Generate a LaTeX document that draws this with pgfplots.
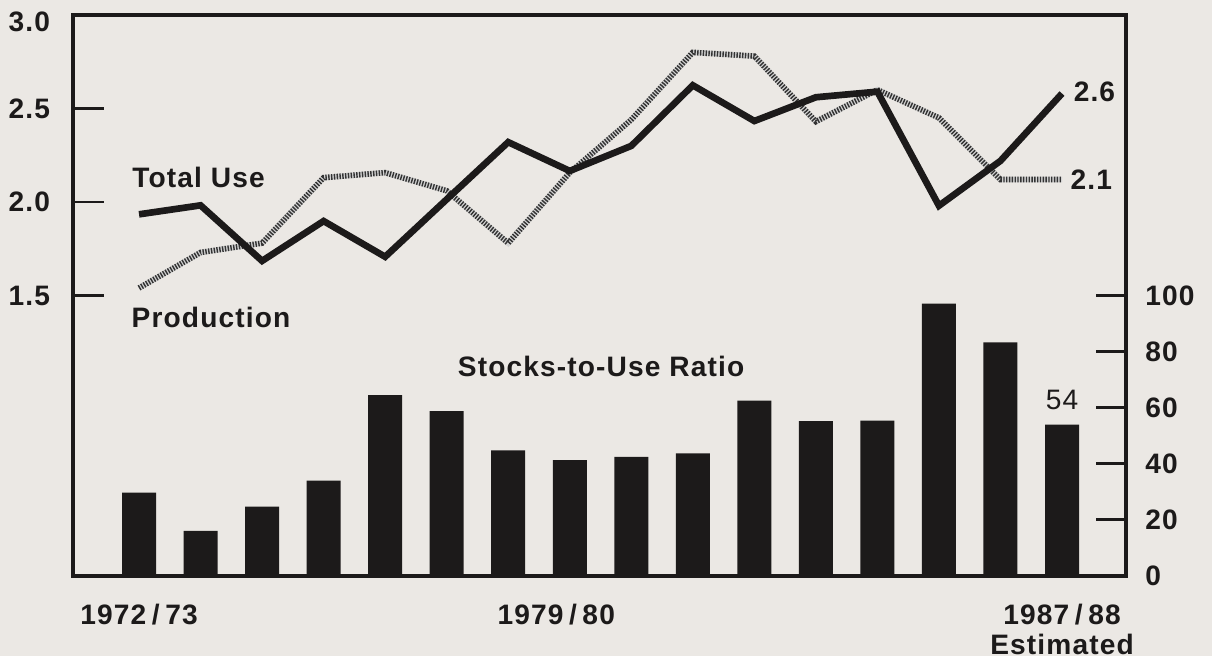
\documentclass[border=0pt]{standalone}
\usepackage{pgfplots}
\pgfplotsset{compat=1.18}
\usepackage{fontspec}
\setmainfont{Liberation Sans}[LetterSpace=4]

\definecolor{paper}{RGB}{235,232,228}
\definecolor{ink}{RGB}{28,26,26}

% idx 0 = 1972/73 ... idx 15 = 1987/88 (estimated)
\pgfplotstableread{
idx use   prod  stocks
0   1.934 1.54  29.7
1   1.982 1.73  16.1
2   1.685 1.78  24.7
3   1.898 2.13  34.0
4   1.707 2.157 64.5
5   2.014 2.06  58.8
6   2.32  1.78  44.8
7   2.166 2.157 41.3
8   2.30  2.44  42.5
9   2.624 2.80  43.7
10  2.433 2.78  62.5
11  2.56  2.43  55.2
12  2.59  2.60  55.4
13  1.98  2.45  97.1
14  2.22  2.12  83.3
15  2.58  2.12  54.0
}\datatable

\begin{document}
\begin{tikzpicture}[font=\fontsize{8}{8.6}\selectfont\bfseries]
\fill[paper] (0,0) rectangle (12.12cm,6.56cm);
\useasboundingbox (0,0) rectangle (12.12cm,6.56cm);

% stocks-to-use ratio, right scale
\begin{axis}[
  at={(0.73cm,0.80cm)}, anchor=south west,
  scale only axis, width=10.53cm, height=5.61cm,
  xmin=-1.073, xmax=16.04, ymin=0, ymax=200,
  hide x axis,
  axis y line*=right,
  y axis line style={-, line width=0.9pt, ink},
  ytick={0,20,40,60,80,100},
  yticklabels={0,20,40,60,80,100},
  tick align=inside,
  major tick length=0.30cm,
  ytick style={line width=0.8pt, ink},
  yticklabel style={anchor=west, xshift=2pt, text=ink},
]
\addplot[ybar, bar width=0.34cm, fill=ink, draw=none] table[x=idx, y=stocks] {\datatable};
\node[anchor=base, text=ink] at (axis cs:7.51,71) {Stocks-to-Use Ratio};
\node[anchor=base, text=ink, font=\fontsize{8}{8.6}\selectfont\mdseries] at (axis cs:15,59.3) {54};
\end{axis}

% total use and production, left scale
\begin{axis}[
  at={(0.73cm,0.80cm)}, anchor=south west,
  scale only axis, width=10.53cm, height=5.61cm,
  xmin=-1.073, xmax=16.04, ymin=0, ymax=3,
  axis line style={line width=0.9pt, ink},
  ytick={1.5,2.0,2.5,3.0},
  yticklabels={1.5,2.0,2.5,\raisebox{-2pt}[\height][\depth]{3.0}},
  ytick pos=left,
  tick align=inside,
  major tick length=0.31cm,
  ytick style={line width=0.8pt, ink},
  yticklabel style={xshift=-3pt, text=ink},
  xtick={0,6.78,15},
  xticklabels={1972\hspace{0.2em}/\hspace{0.2em}73, 1979\hspace{0.2em}/\hspace{0.2em}80, 1987\hspace{0.2em}/\hspace{0.2em}88\\Estimated},
  xtick style={draw=none},
  xticklabel style={align=center, anchor=north, yshift=-4.5pt, text=ink},
]
\addplot[gray!35, line width=1.6pt] table[x=idx, y=prod] {\datatable};
\addplot[black!80, line width=1.6pt, dash pattern=on 0.4pt off 0.4pt] table[x=idx, y=prod] {\datatable};
\addplot[ink, line width=1.9pt, line join=miter] table[x=idx, y=use] {\datatable};
\node[anchor=base west, inner sep=0pt, text=ink] at (axis cs:-0.12,2.076) {Total Use};
\node[anchor=base west, inner sep=0pt, text=ink] at (axis cs:-0.13,1.328) {Production};
\node[anchor=base west, inner sep=0pt, text=ink] at (axis cs:15.18,2.54) {2.6};
\node[anchor=base west, inner sep=0pt, text=ink] at (axis cs:15.13,2.068) {2.1};
\end{axis}
\end{tikzpicture}
\end{document}
